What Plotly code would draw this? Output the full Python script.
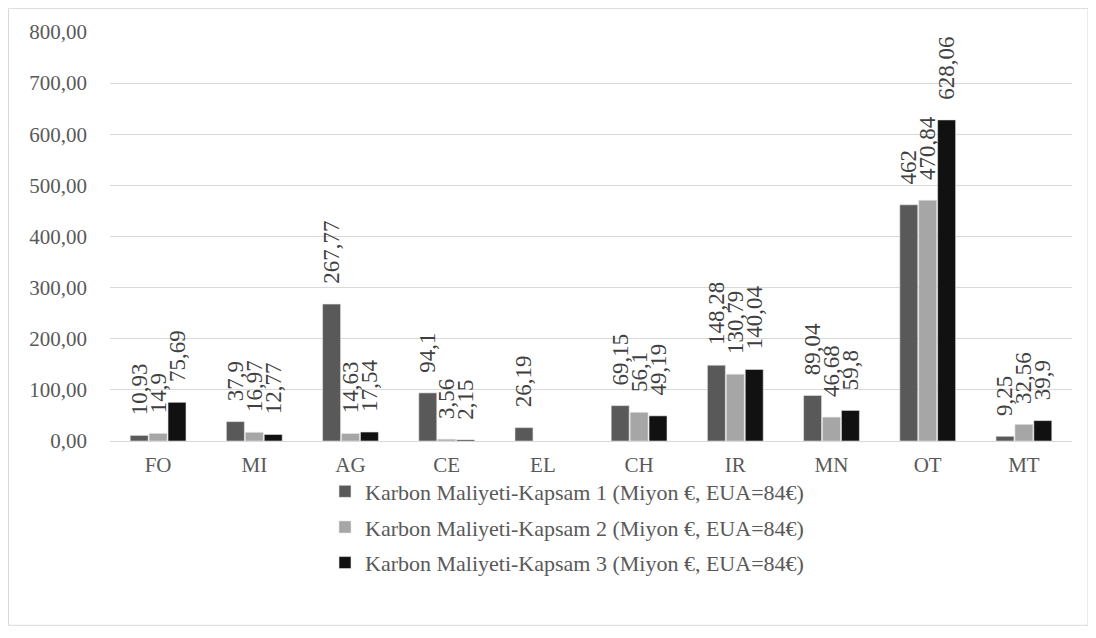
import plotly.graph_objects as go

categories = ["FO", "MI", "AG", "CE", "EL", "CH", "IR", "MN", "OT", "MT"]
kapsam1 = [10.93, 37.9, 267.77, 94.1, 26.19, 69.15, 148.28, 89.04, 462, 9.25]
kapsam2 = [14.9, 16.97, 14.63, 3.56, None, 56.1, 130.79, 46.68, 470.84, 32.56]
kapsam3 = [75.69, 12.77, 17.54, 2.15, None, 49.19, 140.04, 59.8, 628.06, 39.9]
series_names = [
    "Karbon Maliyeti-Kapsam 1 (Miyon €, EUA=84€)",
    "Karbon Maliyeti-Kapsam 2 (Miyon €, EUA=84€)",
    "Karbon Maliyeti-Kapsam 3 (Miyon €, EUA=84€)",
]
colors = ["#595959", "#A6A6A6", "#111111"]
y_ticks = [0, 100, 200, 300, 400, 500, 600, 700, 800]

FONT = "Liberation Serif"
PAD = "\u00a0\u00a0\u00a0"


def fmt(v):
    if v is None:
        return ""
    return PAD + ("%g" % v).replace(".", ",")


label_font = dict(family=FONT, size=23, color="#404040")

fig = go.Figure()
for name, vals, col, grp in zip(series_names, [kapsam1, kapsam2, kapsam3], colors, ["a", "b", "c"]):
    fig.add_trace(go.Bar(
        x=categories, y=vals, name=name,
        marker=dict(color=col, line=dict(color="#E6E6E6", width=0.6)),
        text=[fmt(v) for v in vals], textposition="outside", textangle=-90,
        textfont=label_font, outsidetextfont=label_font,
        constraintext="none", cliponaxis=False, legendgroup=grp,
    ))

W, H = 1088, 630
ml, mt = 102, 18
pw, ph = 962, 415
mr, mb = W - ml - pw, H - mt - ph


def px2x(px):
    return (px - ml) / pw


def py2y(py):
    return (H - mb - py) / ph


fig.update_layout(
    width=W, height=H,
    margin=dict(l=ml, r=mr, t=mt, b=mb),
    paper_bgcolor="white", plot_bgcolor="white",
    barmode="group", bargap=0.41, bargroupgap=0.05,
    separators=",.",
    font=dict(family=FONT, size=21, color="#595959"),
    showlegend=True,
    legend=dict(
        orientation="v", x=px2x(317), xanchor="left", y=py2y(463), yanchor="top",
        font=dict(family=FONT, size=22, color="#595959"),
        tracegroupgap=4, itemwidth=30, bgcolor="rgba(0,0,0,0)",
    ),
    shapes=[dict(
        type="rect", xref="paper", yref="paper",
        x0=px2x(0.5), x1=px2x(1080), y0=py2y(620), y1=py2y(-6),
        line=dict(color="#D9D9D9", width=1), fillcolor="rgba(0,0,0,0)", layer="below",
    )],
)
fig.update_xaxes(
    showgrid=False, showline=True, linecolor="#D9D9D9", linewidth=1,
    ticks="", tickfont=dict(family=FONT, size=21, color="#595959"),
    ticklabelstandoff=5,
)
fig.update_yaxes(
    range=[0, 800], tickvals=y_ticks, tickformat=".2f",
    showgrid=True, gridcolor="#D9D9D9", gridwidth=1,
    zeroline=False, showline=False, ticks="",
    tickfont=dict(family=FONT, size=21, color="#595959"),
    ticklabelstandoff=22,
)

fig.write_html("out.html")
